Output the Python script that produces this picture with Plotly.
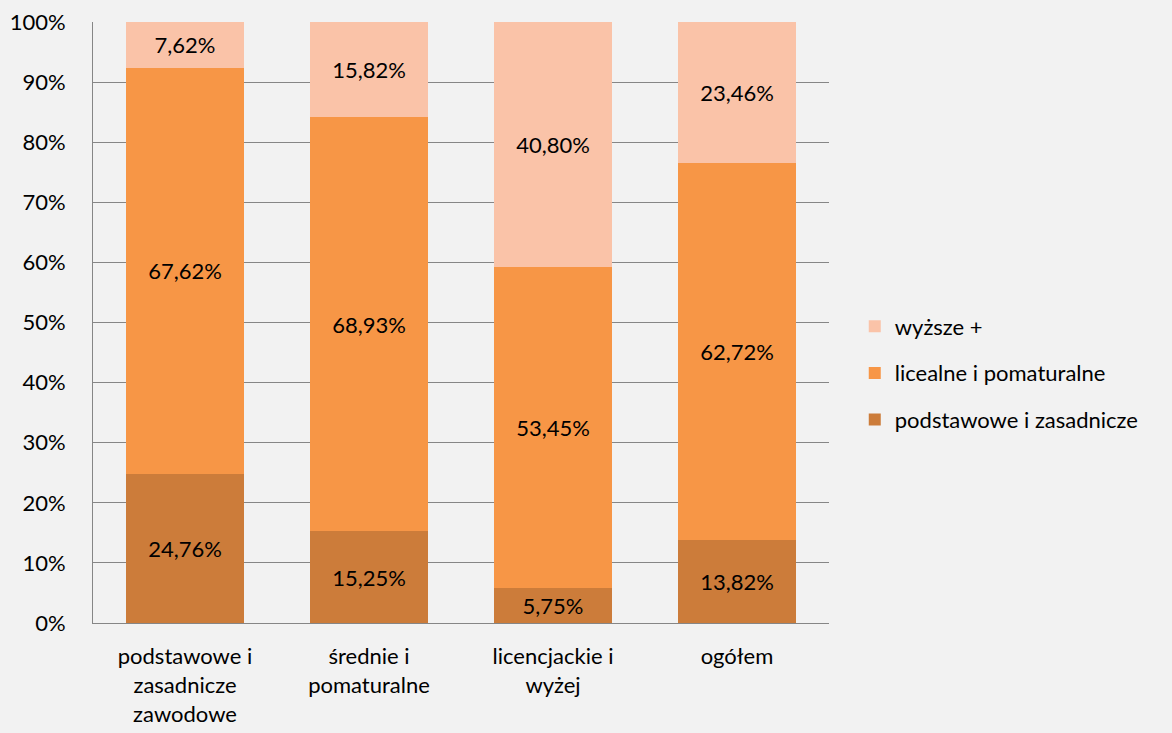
import plotly.graph_objects as go

categories = ["podstawowe i<br>zasadnicze<br>zawodowe", "średnie i<br>pomaturalne", "licencjackie i<br>wyżej", "ogółem"]
podstawowe = [24.76, 15.25, 5.75, 13.82]
licealne = [67.62, 68.93, 53.45, 62.72]
wyzsze = [7.62, 15.82, 40.80, 23.46]

series = [
    ("podstawowe i zasadnicze", podstawowe, "#CC7C3A", 3),
    ("licealne i pomaturalne", licealne, "#F79646", 2),
    ("wyższe +", wyzsze, "#FAC3A8", 1),
]

FONT = "Lato"
FS = 22
fig = go.Figure()
for name, vals, color, rank in series:
    fig.add_trace(go.Bar(
        x=categories, y=vals, name=name,
        marker=dict(color=color, line=dict(width=0)),
        text=[f"{v:.2f}%".replace(".", ",") for v in vals],
        textposition="inside", insidetextanchor="middle",
        textfont=dict(family=FONT, size=FS, color="#000000"),
        legendgroup=name, legendrank=rank,
    ))

fig.update_layout(
    barmode="stack",
    bargap=0.36,
    width=1172, height=733,
    paper_bgcolor="#F2F2F2", plot_bgcolor="#F2F2F2",
    margin=dict(l=93, r=343, t=22, b=110),
    font=dict(family=FONT, size=FS, color="#000000"),
    uniformtext=dict(minsize=FS, mode="show"),
    legend=dict(
        x=1.035, xanchor="left", y=0.416, yanchor="middle",
        traceorder="grouped", tracegroupgap=15, itemwidth=30,
        font=dict(family=FONT, size=FS, color="#000000"),
        bgcolor="rgba(0,0,0,0)",
    ),
    showlegend=True,
)
fig.update_yaxes(
    range=[0, 100], tickmode="linear", tick0=0, dtick=10, ticksuffix="%",
    showgrid=True, gridcolor="#868686", gridwidth=1,
    showline=True, linecolor="#868686", linewidth=1,
    zeroline=False, ticks="", ticklabelstandoff=22,
    fixedrange=True, automargin=False,
)
fig.update_xaxes(
    showline=True, linecolor="#868686", linewidth=1,
    ticks="", ticklabelstandoff=14, tickangle=0, automargin=False,
)

fig.write_html("out.html", config={"displayModeBar": False},
               post_script="document.body.style.margin='0';")
